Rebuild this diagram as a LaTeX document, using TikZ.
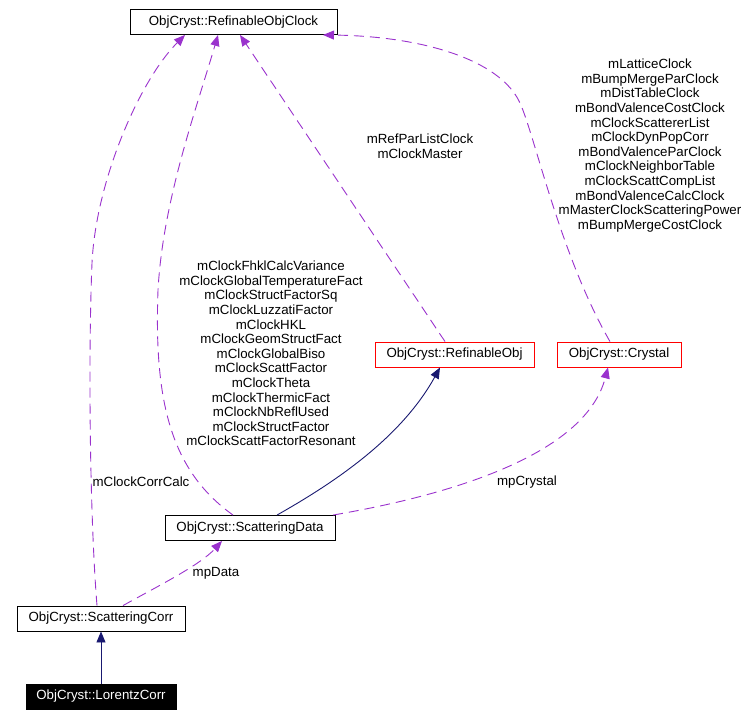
\documentclass[tikz,border=0pt]{standalone}
\usepackage{fontspec}
\setmainfont{Liberation Sans}
\usetikzlibrary{arrows.meta,positioning}

\definecolor{depcol}{HTML}{9A32CD}
\definecolor{inhcol}{HTML}{191970}

\begin{document}
\begin{tikzpicture}[x=1pt, y=-1pt,
    font=\fontsize{13.3}{14.6}\selectfont,
    cls/.style={rectangle, draw, fill=white, line width=0.9pt, minimum height=25pt, inner sep=0pt},
    redcls/.style={cls, draw=red},
    cur/.style={cls, fill=black, text=white},
    lbl/.style={align=center, inner sep=0pt},
    dep/.style={-{Triangle[length=11pt, width=9pt]}, depcol, line width=0.9pt, dash pattern=on 10pt off 6pt},
    inh/.style={-{Triangle[length=11pt, width=9pt]}, inhcol, line width=0.9pt}]
    \useasboundingbox (0,0) rectangle (749,716);

    % Classes
    \node [cls, minimum width=207pt] (clock) at (233.5,22) {ObjCryst::RefinableObjClock};
    \node [redcls, minimum width=159pt] (refobj) at (454.5,354.5) {ObjCryst::RefinableObj};
    \node [redcls, minimum width=124pt] (crystal) at (619,354.5) {ObjCryst::Crystal};
    \node [cls, minimum width=170pt] (sdata) at (250,528) {ObjCryst::ScatteringData};
    \node [cls, minimum width=168pt] (scorr) at (101,618.5) {ObjCryst::ScatteringCorr};
    \node [cur, minimum width=150pt] (lorentz) at (101,696.5) {ObjCryst::LorentzCorr};

    % Labels
    \node [lbl] (lcorr) at (141,482) {mClockCorrCalc};
    \node [lbl] (ldata) at (216,573) {mpData};
    \node [lbl] (lcryst) at (527,482) {mpCrystal};
    \node [lbl] (lref) at (420,146) {mRefParListClock\\mClockMaster};
    \node [lbl] (lsdata) at (271,353.5) {mClockFhklCalcVariance\\mClockGlobalTemperatureFact\\mClockStructFactorSq\\mClockLuzzatiFactor\\mClockHKL\\mClockGeomStructFact\\mClockGlobalBiso\\mClockScattFactor\\mClockTheta\\mClockThermicFact\\mClockNbReflUsed\\mClockStructFactor\\mClockScattFactorResonant};
    \node [lbl] (lcrystal) at (650,145.5) {mLatticeClock\\mBumpMergeParClock\\mDistTableClock\\mBondValenceCostClock\\mClockScattererList\\mClockDynPopCorr\\mBondValenceParClock\\mClockNeighborTable\\mClockScattCompList\\mBondValenceCalcClock\\mMasterClockScatteringPower\\mBumpMergeCostClock};

    % Arrows
    \draw [dep] ([xshift=-4]scorr.north) .. controls (90,520) and (88,360) .. (92,263)
        .. controls (96,180) and (140,80) .. ([xshift=-48.5]clock.south);
    \draw [dep] ([xshift=-17]sdata.north) .. controls (170,470) and (154,400) .. (158,290)
        .. controls (163,200) and (196,110) .. ([xshift=-15.5]clock.south);
    \draw [dep] ([xshift=-9.5]refobj.north) -- ([xshift=6.5]clock.south);
    \draw [dep] ([xshift=-9]crystal.north) .. controls (560,255) and (535,136) .. (520,103)
        .. controls (500,59) and (420,36) .. ([xshift=89.5]clock.south);
    \draw [inh] ([xshift=27]sdata.north) .. controls (330,485) and (400,440) .. ([xshift=-14.5]refobj.south);
    \draw [dep] ([xshift=83]sdata.north) .. controls (450,495) and (585,455) .. ([xshift=-11]crystal.south);
    \draw [dep] ([xshift=22]scorr.north) .. controls (160,585) and (200,565) .. ([xshift=-28]sdata.south);
    \draw [inh] (lorentz) -- (scorr);
\end{tikzpicture}
\end{document}
